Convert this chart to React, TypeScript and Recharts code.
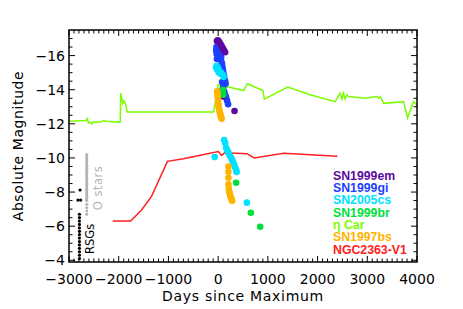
import { ScatterChart, Scatter, XAxis, YAxis, ReferenceDot } from "recharts";

// eta Car light curve (line)
const etaDays = [-3000, -2650, -2630, -2610, -2580, -2540, -2520, -2350, -2300, -2270, -1970, -1960, -1920, -1895, -1860, -1830, -90, 0, 510, 590, 900, 930, 1400, 1850, 2355, 2455, 2490, 2520, 2555, 2590, 2620, 2960, 3195, 3230, 3260, 3330, 3730, 3810, 3930, 4000];
const etaMag = [-12.15, -12.2, -12.3, -12.05, -12.1, -12.0, -12.1, -12.1, -12.2, -12.15, -12.1, -13.8, -13.2, -13.35, -13.15, -12.7, -12.7, -14.3, -13.95, -14.35, -13.95, -13.45, -14.15, -13.7, -13.3, -13.8, -13.45, -13.8, -13.45, -13.7, -13.6, -13.5, -13.6, -13.5, -13.6, -13.2, -13.3, -12.35, -13.3, -13.1];

// NGC2363-V1 (line)
const v1Days = [-2120, -1760, -1540, -1340, -1020, -700, 5, 70, 130, 580, 725, 1315, 2400];
const v1Mag = [-6.3, -6.3, -6.95, -7.75, -9.8, -9.95, -10.37, -10.15, -10.3, -10.25, -10.0, -10.27, -10.1];

// SN1999gi
const giDays = [-40, -35, -30, -25, -20, -10, 0, 10, 20, 30, 40, 50, 60, 70, 80, 90, 100, 110, 120, 130, 140, 150, 80, 100, 120, 140, 160, 180, 200];
const giMag = [-16.3, -16.5, -16.1, -15.8, -16.4, -16.5, -16.3, -16.4, -16.2, -16.0, -16.1, -15.8, -15.9, -15.6, -15.5, -15.3, -15.1, -14.9, -14.8, -14.6, -14.5, -14.35, -14.45, -14.15, -13.9, -13.7, -13.55, -13.35, -13.15];

// SN1999em
const emDays = [-25, -10, 5, 20, 40, 60, 80, 100, 120, 140, 90, 100, 330];
const emMag = [-16.85, -16.9, -16.85, -16.8, -16.7, -16.6, -16.5, -16.4, -16.3, -16.2, -14.0, -13.6, -12.75];

// SN2005cs
const csDays = [-40, -30, -20, -10, 0, 10, 20, 40, 60, 80, 100, 110, -70, 121, 141, 161, 181, 201, 222, 242, 262, 282, 302, 322, 342, 362, 372, 578];
const csMag = [-15.3, -15.4, -15.2, -15.3, -15.1, -15.2, -15.0, -14.95, -15.0, -14.9, -14.85, -14.75, -10.05, -11.05, -10.88, -10.6, -10.45, -10.35, -10.22, -10.1, -10.0, -9.88, -9.75, -9.6, -9.45, -9.3, -9.18, -7.38];

// SN1999br
const brDays = [95, 105, 362, 658, 846];
const brMag = [-14.0, -13.7, -8.55, -6.79, -5.97];

// SN1997bs
const bsDays = [-20, -15, -10, -5, 0, 5, 10, 20, 30, 40, 50, 60, 70, 207, 207, 207, 207, 215, 221, 230, 242, 250, 262, 270, 282];
const bsMag = [-13.9, -13.75, -13.6, -13.45, -13.3, -13.15, -13.0, -12.85, -12.7, -12.6, -12.5, -12.4, -12.3, -9.49, -9.19, -8.84, -8.46, -8.2, -8.02, -7.95, -7.83, -7.7, -7.63, -7.55, -7.49];

// red supergiants and O stars
const rsgDays = [-2790, -2790, -2790, -2790, -2790, -2790, -2790, -2790, -2790, -2790, -2790, -2790, -2790, -2790, -2819, -2765, -2778];
const rsgMag = [-4.1, -4.3, -4.5, -4.7, -4.9, -5.1, -5.3, -5.5, -5.7, -5.9, -6.1, -6.3, -6.5, -6.7, -7.53, -7.53, -8.12];
const oMag = [-10.2, -10.1, -10.0, -9.9, -9.8, -9.7, -9.6, -9.5, -9.4, -9.3, -9.2, -9.1, -9.0, -8.9, -8.8, -8.7, -8.6, -8.5, -8.4, -8.3, -8.2, -8.1, -8.0, -7.9, -7.8, -7.7, -7.6, -7.5, -7.28, -7.08, -6.89, -6.7];
const oDay = -2643;

const legendNames = ["SN1999em", "SN1999gi", "SN2005cs", "SN1999br", "\u03b7 Car", "SN1997bs", "NGC2363-V1"];
const legendColors = ["#5a0aa0", "#1e40ff", "#00e1ff", "#00e03c", "#7cfc00", "#ffb400", "#ff2020"];

const X0 = -3000;
const X1 = 4000;
const Y0 = -17.5;
const Y1 = -3.9;
const xMajor = [-3000, -2000, -1000, 0, 1000, 2000, 3000, 4000];
const yMajor = [-16, -14, -12, -10, -8, -6, -4];

const xTicks = Array.from({ length: 71 }, (_, i) => X0 + i * 100);
const yTicks = Array.from({ length: 27 }, (_, i) => -17 + i * 0.5);

// plot box (chart margins + axis sizes)
const W = 463;
const H = 309;
const M = { top: 30, right: 46, bottom: 0, left: 0 };
const AX_H = 47;
const AX_W = 69;
const PL = M.left + AX_W;
const PT = M.top;
const PW = W - M.right - PL;
const PH = H - M.bottom - AX_H - PT;
const sx = (v: number) => PL + ((v - X0) / (X1 - X0)) * PW;
const sy = (v: number) => PT + ((v - Y0) / (Y1 - Y0)) * PH;

const pts = (xs: number[], ys: number[]) => xs.map((x, i) => ({ x, y: ys[i] }));
const fmt = (v: number) => (v < 0 ? "\u2212" + Math.abs(v) : String(v));
const font = "DejaVu Sans, sans-serif";

const dot = (color: string, r: number) => (p: any) => <circle cx={p.cx} cy={p.cy} r={r} fill={color} />;
const none = () => <g />;

const bottomTick = (p: any) => {
  const v = p.payload.value;
  if (!xMajor.includes(v)) return <g />;
  return (
    <text x={p.x} y={p.y + 22} textAnchor="middle" fontSize={14} fontFamily={font} fill="#000">
      {fmt(v)}
    </text>
  );
};
const leftTick = (p: any) => {
  const v = p.payload.value;
  if (!yMajor.includes(v)) return <g />;
  return (
    <text x={p.x - 4} y={p.y} dy="0.36em" textAnchor="end" fontSize={14} fontFamily={font} fill="#000">
      {fmt(v)}
    </text>
  );
};

const ax = { xAxisId: "b", yAxisId: "l" };

// IDL-style box with inward ticks on all four sides
const Frame = () => {
  const segs: string[] = [];
  xTicks.forEach((v) => {
    const L = xMajor.includes(v) ? 6 : 3.5;
    const x = sx(v);
    segs.push(`M${x},${PT + PH}v${-L}`, `M${x},${PT}v${L}`);
  });
  yTicks.forEach((v) => {
    const L = yMajor.includes(v) ? 6 : 3.5;
    const y = sy(v);
    segs.push(`M${PL},${y}h${L}`, `M${PL + PW},${y}h${-L}`);
  });
  return (
    <svg width={W} height={H} style={{ position: "absolute", left: 0, top: 0, pointerEvents: "none" }}>
      <path d={segs.join("")} stroke="#000" strokeWidth={1} fill="none" />
      <rect x={PL} y={PT} width={PW} height={PH} stroke="#000" strokeWidth={1.5} fill="none" />
      <text x={PL + PW / 2} y={301} textAnchor="middle" fontSize={14} fontFamily={font} letterSpacing={0.7} fill="#000">
        Days since Maximum
      </text>
      <text transform={`translate(23.3,${PT + PH / 2}) rotate(-90)`} textAnchor="middle" fontSize={14} fontFamily={font} letterSpacing={0.6} fill="#000">
        Absolute Magnitude
      </text>
      {legendNames.map((n, i) => (
        <text key={n} x={333} y={179.5 + i * 12.35} fill={legendColors[i]} fontFamily="Liberation Sans, Arial, sans-serif" fontWeight="bold" fontSize={12.3}>
          {n}
        </text>
      ))}
    </svg>
  );
};

export default function App() {
  return (
    <div style={{ position: "absolute", left: 0, top: 0, width: W, height: H, background: "#fff" }}>
      <ScatterChart width={W} height={H} margin={M}>
        <XAxis
          xAxisId="b"
          type="number"
          dataKey="x"
          domain={[X0, X1]}
          allowDataOverflow
          ticks={xTicks}
          interval={0}
          tickSize={0}
          tickMargin={0}
          tickLine={false}
          axisLine={false}
          tick={bottomTick}
          height={AX_H}
        />
        <YAxis
          yAxisId="l"
          type="number"
          dataKey="y"
          domain={[Y0, Y1]}
          reversed
          allowDataOverflow
          ticks={yTicks}
          interval={0}
          tickSize={0}
          tickMargin={0}
          tickLine={false}
          axisLine={false}
          tick={leftTick}
          width={AX_W}
        />

        <Scatter {...ax} data={pts(etaDays, etaMag)} line={{ stroke: "#7cfc00", strokeWidth: 1.5 }} lineType="joint" shape={none} isAnimationActive={false} />
        <Scatter {...ax} data={pts(v1Days, v1Mag)} line={{ stroke: "#ff2020", strokeWidth: 1.5 }} lineType="joint" shape={none} isAnimationActive={false} />
        <Scatter {...ax} data={pts(rsgDays, rsgMag)} shape={dot("#000", 1.6)} isAnimationActive={false} />
        <Scatter {...ax} data={pts(oMag.map(() => oDay), oMag)} shape={dot("#b4b4b4", 1.5)} isAnimationActive={false} />
        <Scatter {...ax} data={pts(giDays, giMag)} shape={dot("#1e40ff", 3.3)} isAnimationActive={false} />
        <Scatter {...ax} data={pts(emDays, emMag)} shape={dot("#5a0aa0", 3.3)} isAnimationActive={false} />
        <Scatter {...ax} data={pts(csDays, csMag)} shape={dot("#00e1ff", 3.3)} isAnimationActive={false} />
        <Scatter {...ax} data={pts(brDays, brMag)} shape={dot("#00e03c", 3.3)} isAnimationActive={false} />
        <Scatter {...ax} data={pts(bsDays, bsMag)} shape={dot("#ffb400", 3.3)} isAnimationActive={false} />

        <ReferenceDot
          {...ax}
          x={-2577}
          y={-5.25}
          shape={(p: any) => (
            <text transform={`translate(${p.cx + 4},${p.cy}) rotate(-90)`} textAnchor="middle" fontSize={11.5} fontFamily={font} fill="#000">
              RSGs
            </text>
          )}
        />
        <ReferenceDot
          {...ax}
          x={-2426}
          y={-8.24}
          shape={(p: any) => (
            <text transform={`translate(${p.cx + 4},${p.cy}) rotate(-90)`} textAnchor="middle" fontSize={11.5} fontFamily={font} letterSpacing={0.5} fill="#b4b4b4">
              O stars
            </text>
          )}
        />
      </ScatterChart>
      <Frame />
    </div>
  );
}
